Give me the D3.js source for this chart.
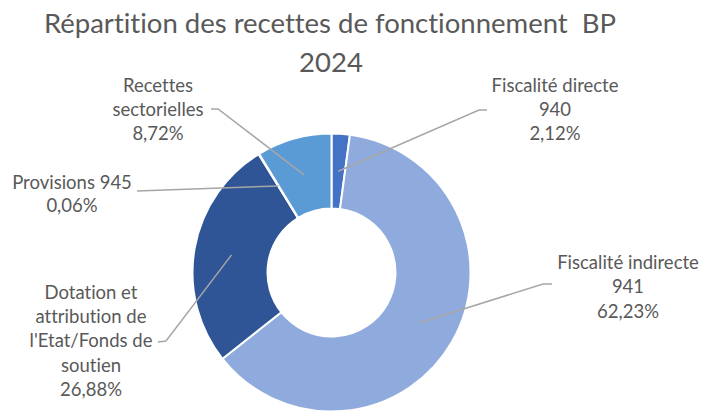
<!DOCTYPE html>
<html>
<head>
<meta charset="utf-8">
<script src="https://cdn.jsdelivr.net/npm/d3@7"></script>
<style>
  body { margin: 0; background: #fff; }
  svg { display: block; font-family: Lato, "Open Sans", sans-serif; font-variant-ligatures: none; }
  .title { white-space: pre; }
</style>
</head>
<body>
<div id="donut"></div>
<script>
// data
const categories = [
  "Fiscalité directe 940",
  "Fiscalité indirecte 941",
  "Dotation et attribution de l'Etat/Fonds de soutien",
  "Provisions 945",
  "Recettes sectorielles"
];
const shares = [2.12, 62.23, 26.88, 0.06, 8.72];
const labelLines = [
  ["Fiscalité directe", "940"],
  ["Fiscalité indirecte", "941"],
  ["Dotation et", "attribution de", "l'Etat/Fonds de", "soutien"],
  ["Provisions 945"],
  ["Recettes", "sectorielles"]
];
const colors = ["#4472C4", "#8FAADC", "#2F5597", "#1F3864", "#5B9BD5"];
const titleLines = ["Répartition des recettes de fonctionnement  BP", "2024"];

const width = 713, height = 416;
const cx = 331.5, cy = 272.5;
const outerR = 139, innerR = 64;

// label layout (centre x, first baseline, line step, leader elbow + end)
const labelLayout = [
  { x: 555, y: 92,  step: 23.8, elbow: [479, 110], end: [487, 110] },
  { x: 628, y: 269, step: 24.3, elbow: [543, 284], end: [552, 284] },
  { x: 91,  y: 299, step: 24.2, elbow: [166, 341], end: [158, 342] },
  { x: 72,  y: 189, step: 22.5, elbow: null,       end: [137, 191] },
  { x: 158, y: 92,  step: 24,   elbow: [218, 109], end: [211, 109] }
];

const fr = d3.formatLocale({ decimal: ",", thousands: " ", grouping: [3], currency: ["", " €"] });
const pct = v => fr.format(".2f")(v) + "%";

const svg = d3.select('#donut')
  .append('svg')
    .attr('width', width)
    .attr('height', height);

svg.selectAll('.title')
  .data(titleLines)
  .join('text')
    .attr('class', 'title')
    .attr('x', (d, i) => i === 0 ? 330 : 331)
    .attr('y', (d, i) => 33 + i * 38.5)
    .attr('text-anchor', 'middle')
    .attr('fill', '#595959')
    .style('font-size', '27.5px')
    .text(d => d);

const data = categories.map((c, i) => ({ category: c, value: shares[i], lines: labelLines[i], color: colors[i], layout: labelLayout[i] }));

const pieGenerator = d3.pie()
  .sort(null)
  .value(d => d.value);
const annotatedData = pieGenerator(data);

const arcGenerator = d3.arc()
  .innerRadius(innerR)
  .outerRadius(outerR);

const donut = svg.append('g')
  .attr('transform', `translate(${cx},${cy})`);

donut.selectAll('path')
  .data(annotatedData)
  .join('path')
    .attr('d', arcGenerator)
    .attr('fill', d => d.data.color)
    .attr('stroke', '#fff')
    .attr('stroke-width', 2)
    .attr('stroke-linejoin', 'round');

// leader lines
svg.selectAll('.leader')
  .data(annotatedData)
  .join('polyline')
    .attr('class', 'leader')
    .attr('fill', 'none')
    .attr('stroke', '#A6A6A6')
    .attr('stroke-width', 1.5)
    .attr('points', d => {
      const c = arcGenerator.centroid(d);
      const pts = [[cx + c[0], cy + c[1]]];
      if (d.data.layout.elbow) pts.push(d.data.layout.elbow);
      pts.push(d.data.layout.end);
      return pts.map(p => p.join(',')).join(' ');
    });

// labels
const labels = svg.selectAll('.label')
  .data(annotatedData)
  .join('text')
    .attr('class', 'label')
    .attr('text-anchor', 'middle')
    .attr('fill', '#595959')
    .style('font-size', '18.5px');

labels.selectAll('tspan')
  .data(d => d.data.lines.concat([pct(d.data.value)]).map((t, i) => ({ t, i, l: d.data.layout })))
  .join('tspan')
    .attr('x', d => d.l.x)
    .attr('y', d => d.l.y + d.i * d.l.step)
    .text(d => d.t);
</script>
</body>
</html>
